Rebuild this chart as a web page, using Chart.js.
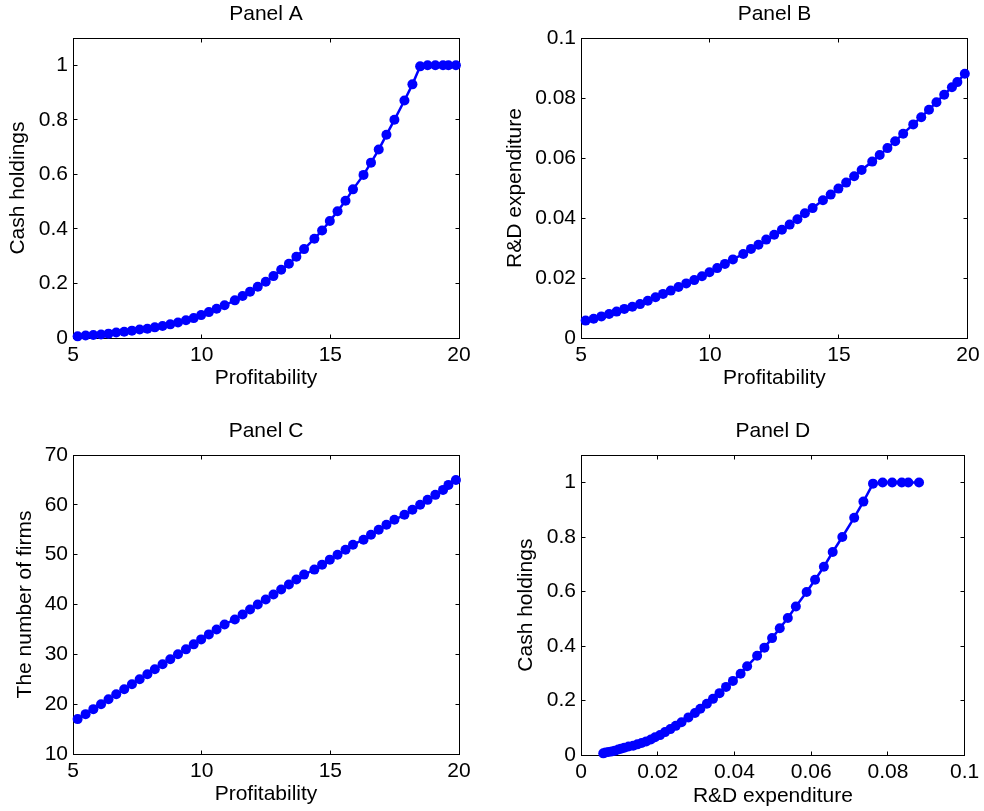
<!DOCTYPE html>
<html>
<head>
<meta charset="utf-8">
<title>Panels A-D</title>
<script src="https://cdn.jsdelivr.net/npm/chart.js@4.4.1/dist/chart.umd.min.js"></script>
<style>
  body { margin: 0; background: #fff; }
  #wrap { position: relative; width: 984px; height: 811px; overflow: hidden; }
  #wrap canvas { position: absolute; }
</style>
</head>
<body>
<div id="wrap">
  <canvas id="panelA" width="490" height="400" style="left:0;top:0"></canvas>
  <canvas id="panelB" width="494" height="400" style="left:490px;top:0"></canvas>
  <canvas id="panelC" width="490" height="411" style="left:0;top:400px"></canvas>
  <canvas id="panelD" width="494" height="411" style="left:490px;top:400px"></canvas>
</div>
<script>
// values
const profitability = [5.18, 5.49, 5.79, 6.09, 6.38, 6.68, 6.99, 7.29, 7.59, 7.89,
    8.18, 8.48, 8.78, 9.08, 9.39, 9.69, 9.98, 10.28, 10.58, 10.89,
    11.29, 11.59, 11.88, 12.18, 12.49, 12.79, 13.09, 13.39, 13.68, 13.98,
    14.38, 14.68, 14.98, 15.28, 15.59, 15.88, 16.29, 16.58, 16.88, 17.18,
    17.49, 17.88, 18.19, 18.49, 18.78, 19.08, 19.38, 19.59, 19.88];

const cashHoldings = [0.006, 0.009, 0.011, 0.013, 0.016, 0.020, 0.023, 0.027, 0.031, 0.034,
    0.039, 0.044, 0.050, 0.057, 0.065, 0.073, 0.084, 0.095, 0.107, 0.120,
    0.138, 0.154, 0.170, 0.188, 0.206, 0.227, 0.250, 0.272, 0.298, 0.326,
    0.364, 0.394, 0.429, 0.465, 0.503, 0.545, 0.598, 0.643, 0.691, 0.745,
    0.800, 0.871, 0.930, 0.996, 1, 1, 1, 1, 1];

const rdExpenditure = [0.0058, 0.0064, 0.0072, 0.0080, 0.0088, 0.0097, 0.0104, 0.0113, 0.0124, 0.0136,
    0.0147, 0.0158, 0.0170, 0.0182, 0.0193, 0.0206, 0.0219, 0.0233, 0.0247, 0.0262,
    0.0280, 0.0297, 0.0311, 0.0328, 0.0344, 0.0361, 0.0378, 0.0396, 0.0416, 0.0433,
    0.0459, 0.0478, 0.0498, 0.0518, 0.0539, 0.0560, 0.0588, 0.0610, 0.0633, 0.0656,
    0.0681, 0.0712, 0.0736, 0.0761, 0.0786, 0.0811, 0.0836, 0.0853, 0.0881];

const numFirms = [17, 18, 19, 20, 21, 22, 23, 24, 25, 26,
    27, 28, 29, 30, 31, 32, 33, 34, 35, 36,
    37, 38, 39, 40, 41, 42, 43, 44, 45, 46,
    47, 48, 49, 50, 51, 52, 53, 54, 55, 56,
    57, 58, 59, 60, 61, 62, 63, 64, 65];

// tick labels
const profitTicks = [5, 10, 15, 20];
const cashTicks = [0, 0.2, 0.4, 0.6, 0.8, 1];
const rdTicks = [0, 0.02, 0.04, 0.06, 0.08, 0.1];
const firmTicks = [10, 20, 30, 40, 50, 60, 70];

Chart.defaults.font.family = '"Liberation Sans", Arial, Helvetica, sans-serif';
Chart.defaults.font.size = 21;
Chart.defaults.color = '#000';

function pairs(xs, ys) {
    return xs.map((x, i) => ({ x: x, y: ys[i] }));
}

// matlab style box with inward ticks on all four sides
const boxTicks = {
    id: 'boxTicks',
    beforeDatasetsDraw(chart) {
        const { ctx, chartArea: a, scales } = chart;
        const s = v => Math.round(v - 0.5) + 0.5;
        const L = s(a.left), R = s(a.right), T = s(a.top), B = s(a.bottom);
        ctx.save();
        ctx.strokeStyle = '#000';
        ctx.lineWidth = 1;
        ctx.strokeRect(L, T, R - L, B - T);
        ctx.beginPath();
        scales.x.ticks.forEach(t => {
            const p = s(scales.x.getPixelForValue(t.value));
            ctx.moveTo(p, B); ctx.lineTo(p, B - 4);
            ctx.moveTo(p, T); ctx.lineTo(p, T + 4);
        });
        scales.y.ticks.forEach(t => {
            const p = s(scales.y.getPixelForValue(t.value));
            ctx.moveTo(L, p); ctx.lineTo(L + 4, p);
            ctx.moveTo(R, p); ctx.lineTo(R - 4, p);
        });
        ctx.stroke();
        ctx.restore();
    }
};

function axis(min, max, ticks, title, isX, g) {
    return {
        type: 'linear',
        min: min,
        max: max,
        grid: { display: false, drawTicks: false },
        border: { display: false },
        afterBuildTicks: sc => { sc.ticks = ticks.map(v => ({ value: v })); },
        afterFit: sc => {
            if (isX) sc.height = g.xHeight;
            else sc.width = g.yWidth;
        },
        ticks: {
            padding: isX ? g.xTickPad : 5,
            maxRotation: 0,
            autoSkip: false,
            callback: v => String(v)
        },
        title: {
            display: true,
            text: title,
            padding: isX ? { top: 0, bottom: g.xTitlePad } : { top: g.yTitlePad, bottom: 0 }
        }
    };
}

function makePanel(id, name, xs, ys, xr, yr, xTicks, yTicks, xLabel, yLabel, g) {
    return new Chart(document.getElementById(id), {
        type: 'scatter',
        data: {
            datasets: [{
                data: pairs(xs, ys),
                showLine: true,
                borderColor: '#0000ff',
                backgroundColor: '#0000ff',
                borderWidth: 2.5,
                pointRadius: 5,
                pointHoverRadius: 5,
                pointBorderWidth: 0,
                clip: false
            }]
        },
        options: {
            responsive: false,
            animation: false,
            layout: { padding: { left: 0, right: g.padRight, top: 0, bottom: 0 } },
            plugins: {
                legend: { display: false },
                tooltip: { enabled: false },
                title: {
                    display: true,
                    text: name,
                    fullSize: false,
                    font: { weight: 'normal', size: 21 },
                    padding: { top: g.titleTop, bottom: g.titleBottom }
                }
            },
            scales: {
                x: axis(xr[0], xr[1], xTicks, xLabel, true, g),
                y: axis(yr[0], yr[1], yTicks, yLabel, false, g)
            }
        },
        plugins: [boxTicks]
    });
}

makePanel('panelA', 'Panel A', profitability, cashHoldings, [5, 20], [0, 1.1],
    profitTicks, cashTicks, 'Profitability', 'Cash holdings',
    { yWidth: 73, xHeight: 62, padRight: 31, titleTop: 1.6, titleBottom: 11.2,
      yTitlePad: 6.1, xTitlePad: 9.6, xTickPad: 4.4 });

makePanel('panelB', 'Panel B', profitability, rdExpenditure, [5, 20], [0, 0.1],
    profitTicks, rdTicks, 'Profitability', 'R&D expenditure',
    { yWidth: 91, xHeight: 62, padRight: 16, titleTop: 1.6, titleBottom: 11.2,
      yTitlePad: 13.1, xTitlePad: 9.6, xTickPad: 4.4 });

makePanel('panelC', 'Panel C', profitability, numFirms, [5, 20], [10, 70],
    profitTicks, firmTicks, 'Profitability', 'The number of firms',
    { yWidth: 73, xHeight: 57, padRight: 31, titleTop: 18.9, titleBottom: 10.9,
      yTitlePad: 12.4, xTitlePad: 3.7, xTickPad: 5.1 });

makePanel('panelD', 'Panel D', rdExpenditure, cashHoldings, [0, 0.1], [0, 1.1],
    rdTicks, cashTicks, 'R&D expenditure', 'Cash holdings',
    { yWidth: 91, xHeight: 56, padRight: 17, titleTop: 18.9, titleBottom: 11.2,
      yTitlePad: 24.1, xTitlePad: 2.4, xTickPad: 4.7 });
</script>
</body>
</html>
